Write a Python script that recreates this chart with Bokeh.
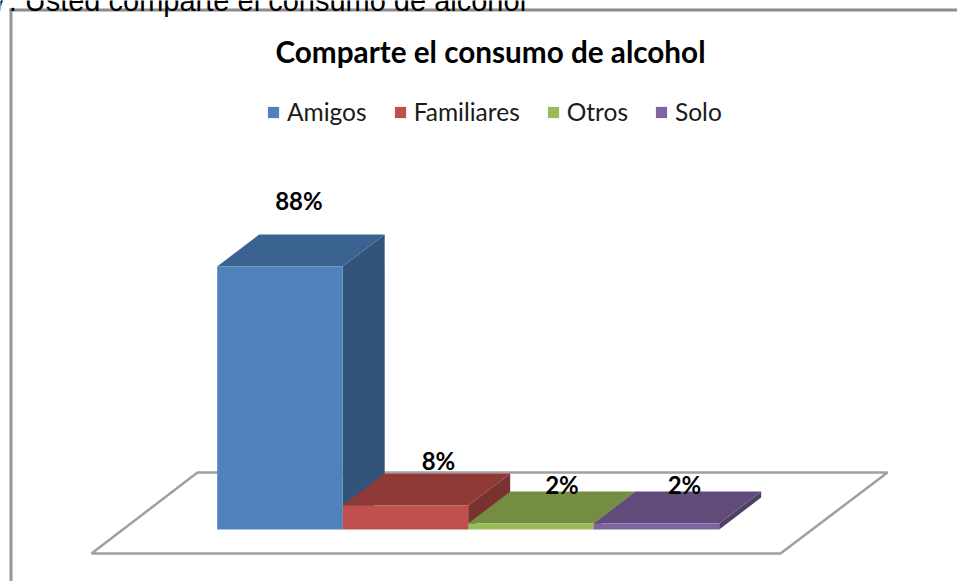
from bokeh.core.properties import value
from bokeh.embed import file_html
from bokeh.models import ColumnDataSource, Legend, LegendItem, Range1d
from bokeh.plotting import figure
from bokeh.resources import INLINE

# Chart content
chart_title = "Comparte el consumo de alcohol"
question = "7. Usted comparte el consumo de alcohol"
categories = ["Amigos", "Familiares", "Otros", "Solo"]
percentages = [88, 8, 2, 2]
value_labels = ["88%", "8%", "2%", "2%"]
front_colors = ["#4f81bd", "#c0504d", "#9bbb59", "#8064a2"]
top_colors = ["#3b6391", "#903a38", "#748d43", "#604b7a"]
side_colors = ["#32547b", "#7a3230", "#627739", "#513f67"]

# Page geometry, in pixels
WIDTH, HEIGHT = 957, 581
BAR_LEFT, BAR_WIDTH = 216.7, 125.5
BASE_Y, PX_PER_PERCENT = 529.0, 2.989
DEPTH_X, DEPTH_Y = 42.0, 32.0

# Label placement relative to the back top edge of each bar
label_shift_x = [-23, -9, -11, -14]
label_shift_y = [34, 13, 7, 7]

# The data space is expressed in category slots and percent, so bars use the scales
x_range = Range1d(-BAR_LEFT / BAR_WIDTH, (WIDTH - BAR_LEFT) / BAR_WIDTH)
y_range = Range1d((BASE_Y - HEIGHT) / PX_PER_PERCENT, BASE_Y / PX_PER_PERCENT)

p = figure(
    width=WIDTH, height=HEIGHT, x_range=x_range, y_range=y_range,
    output_backend="svg", toolbar_location=None, min_border=0,
    outline_line_color=None, background_fill_color="white",
)
p.axis.visible = False
p.grid.visible = False


def px_x(x):
    return (x - BAR_LEFT) / BAR_WIDTH


def px_y(y):
    return (BASE_Y - y) / PX_PER_PERCENT


dx = DEPTH_X / BAR_WIDTH
dy = DEPTH_Y / PX_PER_PERCENT

# Chart frame, open on the right and the bottom
p.line([px_x(10.5), px_x(10.5)], [px_y(581), px_y(8)], line_color="#969696", line_width=3)
p.line([px_x(9), px_x(957)], [px_y(9.5), px_y(9.5)], line_color="#8c8c8c", line_width=3)

# Floor of the 3D plot area
floor_x = [px_x(91), px_x(780), px_x(887), px_x(197), px_x(91)]
floor_y = [px_y(553), px_y(553), px_y(472), px_y(472), px_y(553)]
p.line(floor_x, floor_y, line_color="#a0a0a0", line_width=2.5)

# Bars, drawn back-to-front per slot: side, top, front
legend_items = []
for i, (pct, name) in enumerate(zip(percentages, categories)):
    x0, x1 = i, i + 1
    p.patch([x1, x1 + dx, x1 + dx, x1], [0, dy, pct + dy, pct], fill_color=side_colors[i], line_color=None)
    p.patch([x0, x1, x1 + dx, x0 + dx], [pct, pct, pct + dy, pct + dy], fill_color=top_colors[i], line_color=None)
    front = p.quad(left=x0, right=x1, bottom=0, top=pct, fill_color=front_colors[i], line_color=None)
    legend_items.append(LegendItem(label=name, renderers=[front]))

# Value labels above each bar, centred over the top face
label_source = ColumnDataSource(dict(
    x=[i + 0.5 + dx + label_shift_x[i] / BAR_WIDTH for i in range(len(percentages))],
    y=[percentages[i] + dy + label_shift_y[i] / PX_PER_PERCENT for i in range(len(percentages))],
    text=value_labels,
))
p.text("x", "y", text="text", source=label_source, text_font=value("Lato"), text_font_style="bold",
       text_font_size="24px", text_color="#000000", text_align="center", text_baseline="middle")

# Chart title
p.text([px_x(490)], [px_y(51)], text=[chart_title], text_font=value("Lato"), text_font_style="bold",
       text_font_size="29.7px", text_color="#000000", text_align="center", text_baseline="middle")

# Question line, cut by the top edge of the page
p.text([px_x(-8)], [px_y(0.5)], text=[question], text_font=value("Liberation Sans"),
       text_font_size="29px", text_color="#000000", text_align="left", text_baseline="alphabetic")

# Legend across the top
legend = Legend(
    items=legend_items, orientation="horizontal", location=(266, 581 - 126),
    border_line_color=None, background_fill_alpha=0, glyph_width=14, glyph_height=14,
    label_standoff=7, spacing=26, padding=6, margin=0,
    label_text_font="Lato", label_text_font_size="24.5px", label_text_color="#1a1a1a",
)
p.add_layout(legend, "center")

open("out.html", "w").write(file_html(p, INLINE))
